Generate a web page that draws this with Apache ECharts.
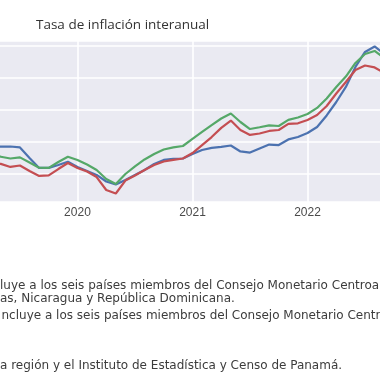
<!DOCTYPE html>
<html>
<head>
<meta charset="utf-8">
<script src="https://cdn.jsdelivr.net/npm/echarts@6/dist/echarts.min.js"></script>
<style>
html,body{margin:0;padding:0;background:#fff;}
#c{width:380px;height:380px;}
</style>
</head>
<body>
<div id="c"></div>
<script>
// Months shown (monthly data, inflation rate year-on-year, %)
const months = [
  '2019-04','2019-05','2019-06','2019-07','2019-08','2019-09','2019-10','2019-11','2019-12',
  '2020-01','2020-02','2020-03','2020-04','2020-05','2020-06','2020-07','2020-08','2020-09','2020-10','2020-11','2020-12',
  '2021-01','2021-02','2021-03','2021-04','2021-05','2021-06','2021-07','2021-08','2021-09','2021-10','2021-11','2021-12',
  '2022-01','2022-02','2022-03','2022-04','2022-05','2022-06','2022-07','2022-08','2022-09'
];
const serieAzul = [
  3.72,3.71,3.72,3.66,3.00,2.38,2.38,2.56,2.77,
  2.44,2.19,1.94,1.53,1.34,1.63,1.94,2.25,2.63,2.88,2.94,2.97,
  3.25,3.50,3.63,3.70,3.78,3.41,3.34,3.59,3.84,3.81,4.16,4.31,
  4.56,4.94,5.66,6.50,7.44,8.69,9.63,9.97,9.50
];
const serieRoja = [
  2.66,2.63,2.44,2.53,2.19,1.88,1.91,2.31,2.69,
  2.38,2.16,1.81,1.00,0.78,1.59,1.91,2.25,2.56,2.78,2.88,2.97,
  3.31,3.81,4.31,4.88,5.34,4.75,4.44,4.53,4.69,4.75,5.13,5.17,
  5.38,5.69,6.25,7.03,7.75,8.50,8.78,8.66,8.31
];
const serieVerde = [
  3.13,3.08,2.97,3.04,2.72,2.39,2.38,2.75,3.08,
  2.88,2.59,2.25,1.69,1.38,2.00,2.47,2.91,3.25,3.53,3.66,3.75,
  4.19,4.63,5.06,5.47,5.78,5.25,4.81,4.92,5.04,5.00,5.38,5.53,
  5.75,6.13,6.72,7.44,8.09,8.94,9.50,9.69,9.25
];
const titulo = 'Tasa de inflación interanual';
const notas = [
  'luye a los seis países miembros del Consejo Monetario Centroamericano',
  'as, Nicaragua y República Dominicana.',
  'ncluye a los seis países miembros del Consejo Monetario Centroamericano',
  'a región y el Instituto de Estadística y Censo de Panamá.'
];

const isJan = (i, v) => String(v).slice(5) === '01';
const chart = echarts.init(document.getElementById('c'), null, {renderer: 'canvas'});
const noteFont = '12px "DejaVu Sans", sans-serif';
chart.setOption({
  animation: false,
  backgroundColor: '#ffffff',
  grid: {
    left: -8.8, right: -4.2, top: 41, bottom: 178,
    show: true, backgroundColor: '#EAEAF2', borderWidth: 0,
    outerBoundsMode: 'none', containLabel: false
  },
  xAxis: {
    type: 'category', data: months, boundaryGap: false,
    axisLine: {show: false}, axisTick: {show: false},
    axisLabel: {interval: isJan, formatter: v => v.slice(0, 4), color: '#4a4a4a', fontSize: 12, margin: 5,
      fontFamily: '"Liberation Sans", Arial, sans-serif'},
    splitLine: {show: true, interval: isJan, lineStyle: {color: '#ffffff', width: 1.6}}
  },
  yAxis: {
    type: 'value', min: 0.25, max: 10.3125, splitNumber: 5,
    axisLine: {show: false}, axisTick: {show: false}, axisLabel: {show: false},
    splitLine: {show: true, lineStyle: {color: '#ffffff', width: 1.6}}
  },
  series: [
    {type: 'line', name: 'azul', data: serieAzul, symbol: 'none', lineStyle: {color: '#4C72B0', width: 2.2}, itemStyle: {color: '#4C72B0'}},
    {type: 'line', name: 'roja', data: serieRoja, symbol: 'none', lineStyle: {color: '#C44E52', width: 2.2}, itemStyle: {color: '#C44E52'}},
    {type: 'line', name: 'verde', data: serieVerde, symbol: 'none', lineStyle: {color: '#55A868', width: 2.2}, itemStyle: {color: '#55A868'}}
  ],
  graphic: [
    {type: 'text', left: 36, top: 18, style: {text: titulo, font: '13.5px "Open Sans", sans-serif', fill: '#333333'}},
    {type: 'text', left: 0, top: 280, style: {text: notas[0], font: noteFont, fill: '#3c3c3c'}},
    {type: 'text', left: 0, top: 293, style: {text: notas[1], font: noteFont, fill: '#3c3c3c'}},
    {type: 'text', left: 1.5, top: 310, style: {text: notas[2], font: noteFont, fill: '#3c3c3c'}},
    {type: 'text', left: 0, top: 360, style: {text: notas[3], font: noteFont, fill: '#3c3c3c'}}
  ]
});
</script>
</body>
</html>
